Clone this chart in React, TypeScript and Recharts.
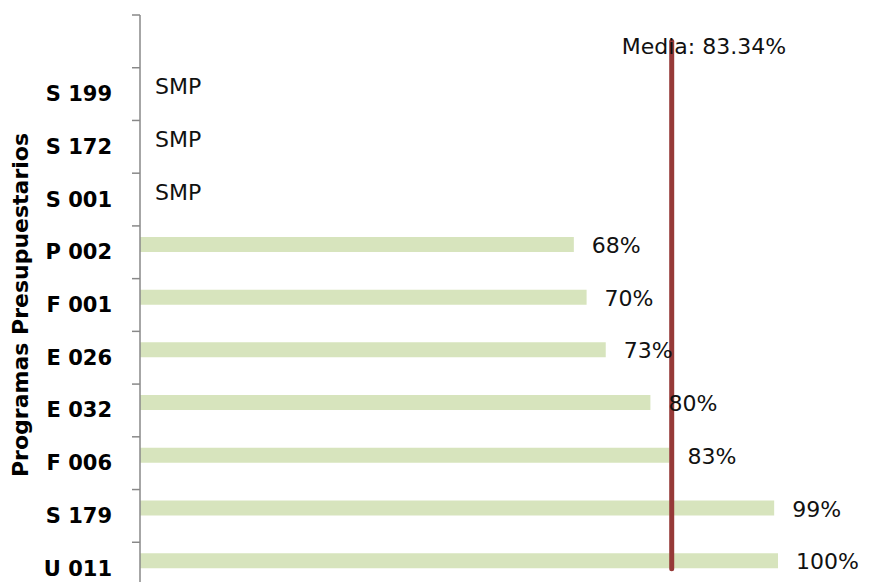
import React from "react";
import { Bar, BarChart, LabelList, ReferenceLine, XAxis, YAxis } from "recharts";

// programas, de arriba hacia abajo (la primera fila queda vacía para la etiqueta de la media)
const PROGRAMAS = ["", "S 199", "S 172", "S 001", "P 002", "F 001", "E 026", "E 032", "F 006", "S 179", "U 011"];
const AVANCE = [null, null, null, null, 68, 70, 73, 80, 83, 99.4, 100];
const NOTAS = ["", "SMP", "SMP", "SMP", "", "", "", "", "", "", ""];
const MEDIA = 83.34;

const W = 879;
const H = 600;
const MARGIN = { top: 15, right: 101, bottom: 5, left: 40 };
const Y_AXIS_W = 100;
const AXIS_X = MARGIN.left + Y_AXIS_W;
const BAND = (H - MARGIN.top - MARGIN.bottom) / PROGRAMAS.length;
const FONT = "'DejaVu Sans', sans-serif";

const data = PROGRAMAS.map((name, i) => ({
  name,
  avance: AVANCE[i],
  nota: NOTAS[i],
  hueco: null,
}));

function ProgramaTick(props: any) {
  const { y, payload, index } = props;
  const nota = NOTAS[index];
  return (
    <g>
      <line x1={AXIS_X - 8} x2={AXIS_X} y1={y - BAND / 2} y2={y - BAND / 2} stroke="#888" strokeWidth={1.5} />
      <text
        x={AXIS_X - 28}
        y={y}
        textAnchor="end"
        dominantBaseline="central"
        fontFamily={FONT}
        fontWeight="bold"
        fontSize={21}
        fill="#000"
      >
        {payload.value}
      </text>
      {nota ? (
        <text x={AXIS_X + 15} y={y - 7.5} dominantBaseline="central" fontFamily={FONT} fontSize={22} fill="#111">
          {nota}
        </text>
      ) : null}
    </g>
  );
}

function AvanceLabel(props: any) {
  const { x, y, width, height, value } = props;
  if (value == null) return null;
  return (
    <text
      x={x + width + 18}
      y={y + height / 2 + 1}
      dominantBaseline="central"
      fontFamily={FONT}
      fontSize={22}
      fill="#111"
    >
      {Math.round(value)}%
    </text>
  );
}

function MediaLabel(props: any) {
  const vb = props.viewBox || {};
  return (
    <text x={vb.x - 50} y={vb.y + 5} dominantBaseline="central" fontFamily={FONT} fontSize={22} fill="#111">
      Media: {MEDIA.toFixed(2)}%
    </text>
  );
}

export default function App() {
  return (
    <div style={{ position: "absolute", left: 0, top: 0, width: W, height: 582, overflow: "hidden", background: "#fff" }}>
      <BarChart width={W} height={H} data={data} layout="vertical" margin={MARGIN} barGap={0}>
        <XAxis type="number" domain={[0, 100]} hide />
        <YAxis
          type="category"
          dataKey="name"
          width={Y_AXIS_W}
          axisLine={{ stroke: "#888", strokeWidth: 1.5 }}
          tickLine={false}
          tick={<ProgramaTick />}
          interval={0}
          label={{
            content: () => (
              <text
                x={20}
                y={305}
                transform="rotate(-90, 20, 305)"
                textAnchor="middle"
                dominantBaseline="central"
                fontFamily={FONT}
                fontWeight="bold"
                fontSize={22}
                fill="#000"
              >
                Programas Presupuestarios
              </text>
            ),
          }}
        />
        <Bar dataKey="avance" fill="#d7e4bd" barSize={15} isAnimationActive={false}>
          <LabelList dataKey="avance" content={<AvanceLabel />} />
        </Bar>
        <Bar dataKey="hueco" fill="transparent" barSize={15} isAnimationActive={false} />
        <ReferenceLine
          segment={[
            { x: MEDIA, y: "" },
            { x: MEDIA, y: "U 011" },
          ]}
          stroke="#963a38"
          strokeWidth={5}
          strokeLinecap="round"
          label={<MediaLabel />}
        />
      </BarChart>
    </div>
  );
}
